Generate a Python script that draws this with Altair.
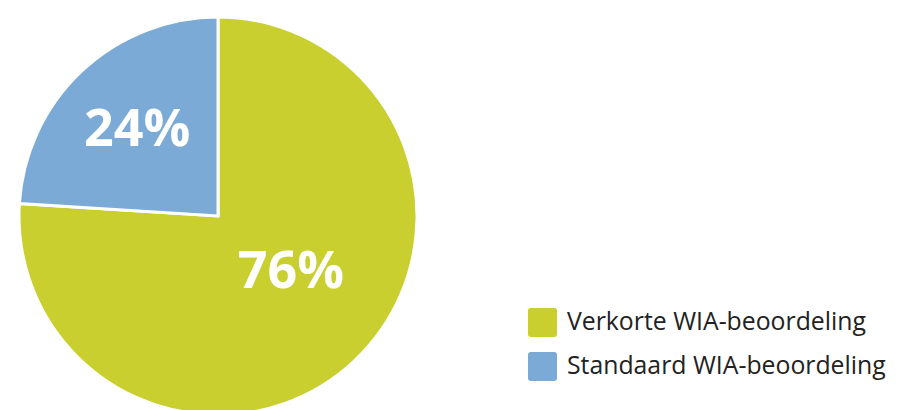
import altair as alt
import pandas as pd

categories = ["Verkorte WIA-beoordeling", "Standaard WIA-beoordeling"]
values = [76, 24]
labels = ["76%", "24%"]
order = [0, 1]
colors = ["#C8CF2E", "#7AAAD5"]

df = pd.DataFrame({"cat": categories, "value": values, "label": labels, "order": order})

cx, cy = 210, 208
R = 199

base = alt.Chart(df)

pie = base.mark_arc(radius=R, stroke="white", strokeWidth=3).encode(
    theta=alt.Theta("value:Q", stack=True),
    order=alt.Order("order:Q"),
    color=alt.Color(
        "cat:N",
        scale=alt.Scale(domain=categories, range=colors),
        legend=alt.Legend(
            title=None,
            orient="none",
            legendX=520,
            legendY=300,
            symbolType="M-1,-0.8Q-1,-1,-0.8,-1L0.8,-1Q1,-1,1,-0.8L1,0.8Q1,1,0.8,1L-0.8,1Q-1,1,-1,0.8Z",
            symbolSize=841,
            symbolStrokeWidth=0,
            symbolOpacity=1,
            labelFontSize=24.8,
            labelFont="Open Sans",
            labelColor="#222222",
            labelOffset=10,
            rowPadding=15,
            padding=0,
            labelLimit=400,
        ),
    ),
    x=alt.value(cx),
    y=alt.value(cy),
)

lab_base = (
    base.transform_window(cum="sum(value)", sort=[alt.SortField("order")], frame=[None, 0])
    .transform_joinaggregate(total="sum(value)")
    .transform_calculate(mid="(datum.cum - datum.value/2) / datum.total * 2 * PI")
)

t76 = lab_base.transform_filter("datum.order == 0").mark_text(
    radius=92, dx=10, dy=-11, fontSize=52, fontWeight="bold", color="white", font="Open Sans",
    align="center", baseline="middle",
).encode(theta=alt.Theta("mid:Q", scale=None), text="label:N", x=alt.value(cx), y=alt.value(cy))

t24 = lab_base.transform_filter("datum.order == 1").mark_text(
    radius=118, fontSize=52, fontWeight="bold", color="white", font="Open Sans",
    align="center", baseline="middle",
).encode(theta=alt.Theta("mid:Q", scale=None), text="label:N", x=alt.value(cx), y=alt.value(cy))

chart = (
    alt.layer(pie, t76, t24)
    .properties(width=880, height=400, padding=0)
    .configure_view(stroke=None)
)

chart.save("out.html", embed_options={"renderer": "svg", "actions": False})
